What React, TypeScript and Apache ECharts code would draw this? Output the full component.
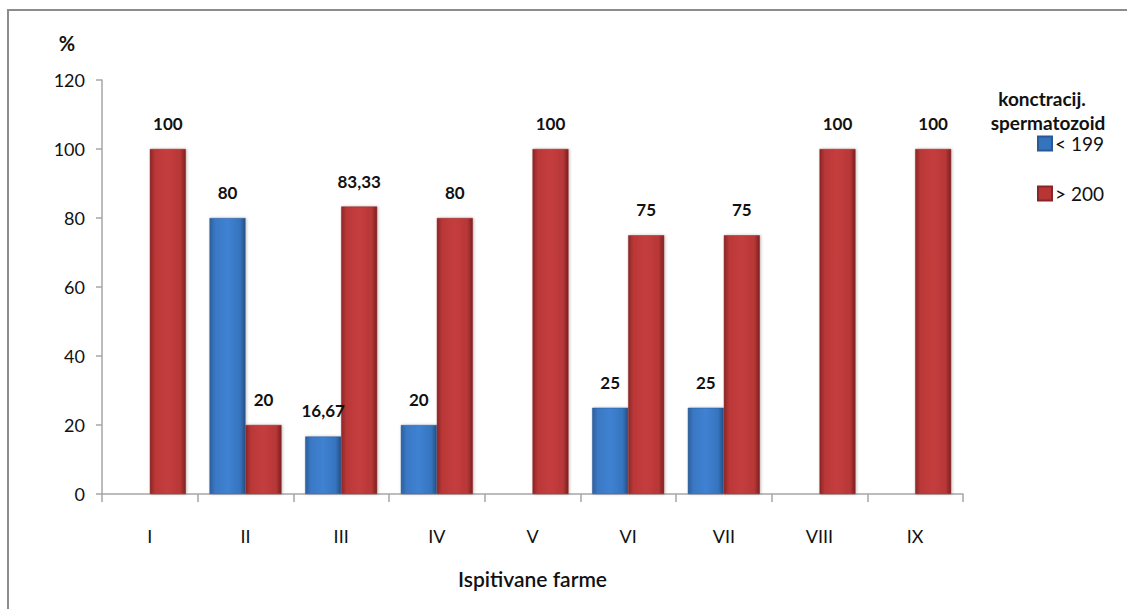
import React, { useEffect, useRef } from "react";
import * as echarts from "echarts";

const categories = ["I", "II", "III", "IV", "V", "VI", "VII", "VIII", "IX"];
const below199: (number | null)[] = [null, 80, 16.67, 20, null, 25, 25, null, null];
const above200: number[] = [100, 20, 83.33, 80, 100, 75, 75, 100, 100];
const seriesNames = ["< 199", "> 200"];
const yTicks = { min: 0, max: 120, interval: 20 };

const FONT = "Lato, 'Noto Sans', sans-serif";

const fmt = (v: number) => String(v).replace(".", ",");

const blueGrad = new echarts.graphic.LinearGradient(0, 0, 1, 0, [
  { offset: 0, color: "#2c5f9e" },
  { offset: 0.15, color: "#3a78c4" },
  { offset: 0.5, color: "#3f82d2" },
  { offset: 0.85, color: "#3674be" },
  { offset: 1, color: "#254f85" },
]);
const redGrad = new echarts.graphic.LinearGradient(0, 0, 1, 0, [
  { offset: 0, color: "#8e2626" },
  { offset: 0.15, color: "#bb3838" },
  { offset: 0.5, color: "#c53d3d" },
  { offset: 0.85, color: "#b83737" },
  { offset: 1, color: "#7e2020" },
]);

export default function App() {
  const ref = useRef<HTMLDivElement>(null);
  useEffect(() => {
    if (!ref.current) return;
    const chart = echarts.init(ref.current, undefined, { renderer: "svg" });
    const labelCfg = {
      show: true,
      position: "top" as const,
      distance: 17,
      fontFamily: FONT,
      fontSize: 17,
      fontWeight: "bold" as const,
      color: "#111",
      formatter: (p: any) => fmt(p.value),
    };
    chart.setOption({
      animation: false,
      backgroundColor: "#fff",
      textStyle: { fontFamily: FONT },
      grid: { left: 102, right: 164, top: 80, bottom: 115, containLabel: false },
      legend: {
        orient: "vertical",
        left: 1032,
        top: 129,
        itemWidth: 14,
        itemHeight: 14,
        itemGap: 31,
        icon: "rect",
        textStyle: { fontFamily: FONT, fontSize: 19, color: "#111", padding: [0, 0, 0, -2] },
        data: [
          { name: seriesNames[0], itemStyle: { color: "#3673bd" } },
          { name: seriesNames[1], itemStyle: { color: "#b83535" } },
        ],
      },
      xAxis: {
        type: "category",
        data: categories,
        boundaryGap: true,
        axisLine: { lineStyle: { color: "#a6a6a6", width: 1.5 } },
        axisTick: { show: true, length: 8, lineStyle: { color: "#a6a6a6", width: 1.5 } },
        axisLabel: { fontFamily: FONT, fontSize: 18, color: "#111", margin: 33 },
        name: "Ispitivane farme",
        nameLocation: "middle",
        nameGap: 74,
        nameTextStyle: { fontFamily: FONT, fontSize: 21, fontWeight: 600, color: "#111" },
      },
      yAxis: {
        type: "value",
        min: yTicks.min,
        max: yTicks.max,
        interval: yTicks.interval,
        axisLine: { show: true, lineStyle: { color: "#a6a6a6", width: 1.5 } },
        axisTick: { show: true, length: 6, lineStyle: { color: "#a6a6a6", width: 1.5 } },
        splitLine: { show: false },
        axisLabel: { fontFamily: FONT, fontSize: 18, color: "#111", margin: 17 },
      },
      graphic: [
        {
          type: "rect",
          shape: { x: 8, y: 10, width: 1140, height: 640 },
          style: { fill: "none", stroke: "#8c8c8c", lineWidth: 2 },
          silent: true,
        },
        {
          type: "text",
          x: 67,
          y: 43,
          style: {
            text: "%",
            fontFamily: FONT,
            fontSize: 20,
            fontWeight: "bold",
            fill: "#111",
            align: "center",
            verticalAlign: "middle",
          },
        },
        {
          type: "text",
          x: 1042,
          y: 98,
          style: {
            text: "konctracij.",
            fontFamily: FONT,
            fontSize: 19,
            fontWeight: "bold",
            fill: "#111",
            align: "center",
            verticalAlign: "middle",
          },
        },
        {
          type: "text",
          x: 1048,
          y: 122,
          style: {
            text: "spermatozoid",
            fontFamily: FONT,
            fontSize: 19,
            fontWeight: "bold",
            fill: "#111",
            align: "center",
            verticalAlign: "middle",
          },
        },
      ],
      series: [
        {
          name: seriesNames[0],
          type: "bar",
          data: below199.map((v) => (v === null ? "-" : v)),
          barWidth: 36,
          barGap: "0%",
          itemStyle: {
            color: blueGrad,
            borderColor: "#2a5a96",
            borderWidth: 0.5,
            shadowColor: "rgba(0,0,0,0.25)",
            shadowBlur: 3,
            shadowOffsetX: 1,
          },
          label: labelCfg,
        },
        {
          name: seriesNames[1],
          type: "bar",
          data: above200,
          barWidth: 36,
          barGap: "0%",
          itemStyle: {
            color: redGrad,
            borderColor: "#8a2525",
            borderWidth: 0.5,
            shadowColor: "rgba(0,0,0,0.25)",
            shadowBlur: 3,
            shadowOffsetX: 1,
          },
          label: labelCfg,
        },
      ],
    });
    return () => chart.dispose();
  }, []);
  return (
    <div
      ref={ref}
      style={{ position: "fixed", left: 0, top: 0, width: 1127, height: 609 }}
    />
  );
}
